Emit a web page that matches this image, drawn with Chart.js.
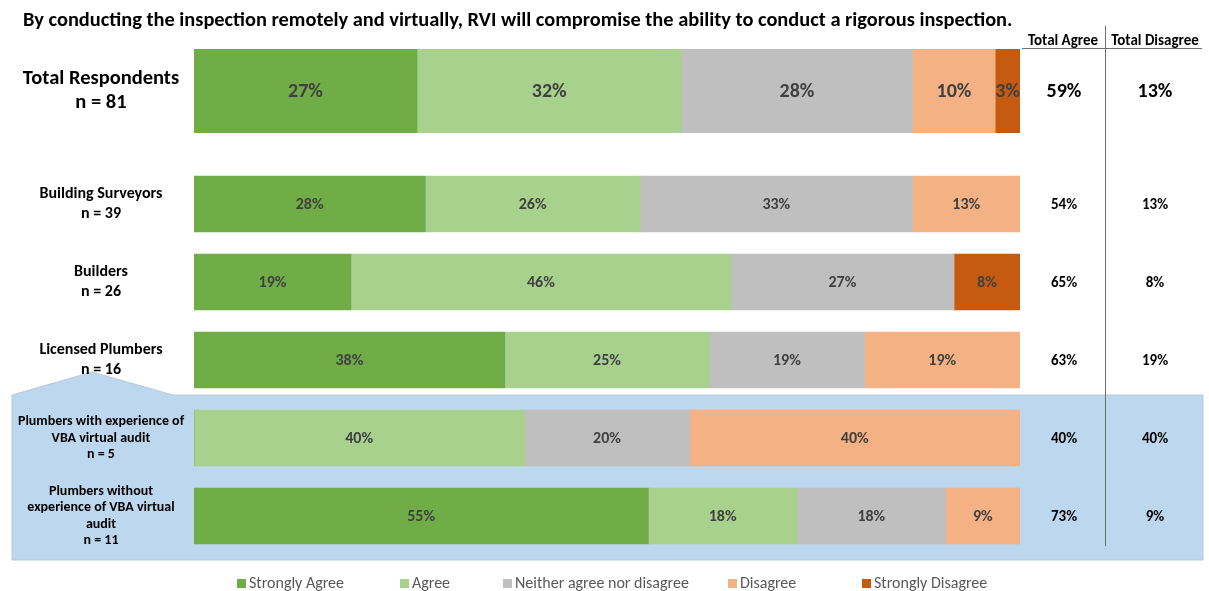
<!DOCTYPE html>
<html>
<head>
<meta charset="utf-8">
<script src="https://cdn.jsdelivr.net/npm/chart.js@4.4.1/dist/chart.umd.min.js"></script>
<style>
  html, body { margin: 0; padding: 0; background: #fff; }
  #page { position: relative; width: 1209px; height: 591px; overflow: hidden;
          font-family: Carlito, Calibri, Lato, sans-serif; }
  #page canvas { position: absolute; left: 0; top: 0; }
  #title { position: absolute; left: 23px; top: 9px; font-weight: bold; font-size: 20.4px;
           line-height: 20px; color: #000; white-space: nowrap; }
  .hdr { position: absolute; top: 33px; width: 100px; text-align: center; font-weight: bold;
         font-size: 15px; line-height: 15px; color: #000; white-space: nowrap; }
  .rule { position: absolute; background: #6e6e6e; }
  #legend { position: absolute; left: 0; top: 574px; width: 1209px; height: 18px; }
  .item { position: absolute; top: 0; font-size: 16px; color: #595959; white-space: nowrap; line-height: 18px; }
  .item i { display: inline-block; width: 9px; height: 9px; margin-right: 3px; vertical-align: 0px; }
</style>
</head>
<body>
<div id="page">
  <canvas id="groups" width="1209" height="591"></canvas>
  <canvas id="total" width="1209" height="182"></canvas>
  <div id="title">By conducting the inspection remotely and virtually, RVI will compromise the ability to conduct a rigorous inspection.</div>
  <div class="hdr" style="left:1013px">Total Agree</div>
  <div class="hdr" style="left:1105px">Total Disagree</div>
  <div class="rule" style="left:1022px; top:48px; width:180px; height:1px"></div>
  <div class="rule" style="left:1105px; top:26px; width:1px; height:520px"></div>
  <div id="legend"></div>
</div>
<script>
// Survey rows: label lines for each group
const groupLabels = [
  ['Total Respondents', 'n = 81'],
  ['Building Surveyors', 'n = 39'],
  ['Builders', 'n = 26'],
  ['Licensed Plumbers', 'n = 16'],
  ['Plumbers with experience of', 'VBA virtual audit', 'n = 5'],
  ['Plumbers without', 'experience of VBA virtual', 'audit', 'n = 11']
];

// Response shares (%) per group
const stronglyAgree    = [27, 28, 19, 38, 0, 55];
const agree            = [32, 26, 46, 25, 40, 18];
const neither          = [28, 33, 27, 19, 20, 18];
const disagree         = [10, 13, 0, 19, 40, 9];
const stronglyDisagree = [3, 0, 8, 0, 0, 0];

const seriesNames  = ['Strongly Agree', 'Agree', 'Neither agree nor disagree', 'Disagree', 'Strongly Disagree'];
const seriesValues = [stronglyAgree, agree, neither, disagree, stronglyDisagree];
const seriesColors = ['#70AD47', '#A9D18E', '#BFBFBF', '#F4B183', '#C55A11'];

const FONT = 'Carlito, Calibri, Lato, sans-serif';

// Rows are drawn as 100% stacked bars: each segment is its share of the row total
function rowTotals(idx) {
  return idx.map(i => seriesValues.reduce((s, arr) => s + arr[i], 0));
}

function buildDatasets(idx, thickness) {
  const totals = rowTotals(idx);
  return seriesNames.map((name, k) => ({
    label: name,
    raw: idx.map(i => seriesValues[k][i]),
    data: idx.map((i, j) => seriesValues[k][i] / totals[j] * 100),
    backgroundColor: seriesColors[k],
    borderWidth: 0,
    barThickness: thickness
  }));
}

function widestLine(lines, sizeOf) {
  const c = document.createElement('canvas').getContext('2d');
  let w = 0;
  lines.forEach((l, j) => {
    c.font = 'bold ' + sizeOf(j) + 'px ' + FONT;
    l.forEach(s => { w = Math.max(w, c.measureText(s).width); });
  });
  return w;
}

// Percent text on each segment plus the Total Agree / Total Disagree columns
function makeLabelPlugin(idx, segFont, sideFont) {
  return {
    id: 'valueLabels',
    afterDatasetsDraw(chart) {
      const ctx = chart.ctx;
      ctx.save();
      ctx.textAlign = 'center';
      ctx.textBaseline = 'middle';
      chart.data.datasets.forEach((ds, k) => {
        const meta = chart.getDatasetMeta(k);
        meta.data.forEach((bar, j) => {
          const v = ds.raw[j];
          if (!v) return;
          const p = bar.getCenterPoint();
          ctx.font = segFont;
          ctx.fillStyle = '#404040';
          ctx.fillText(v + '%', p.x, p.y + 1);
        });
      });
      const meta0 = chart.getDatasetMeta(0);
      idx.forEach((i, j) => {
        const y = meta0.data[j].y + 1;
        ctx.font = sideFont;
        ctx.fillStyle = '#000';
        ctx.fillText((stronglyAgree[i] + agree[i]) + '%', 1064, y);
        ctx.fillText((disagree[i] + stronglyDisagree[i]) + '%', 1155, y);
      });
      ctx.restore();
    }
  };
}

// Highlight panel behind the two plumber sub-groups
const panelPlugin = {
  id: 'panel',
  beforeDraw(chart) {
    const ctx = chart.ctx;
    ctx.save();
    ctx.fillStyle = '#BDD7EE';
    ctx.beginPath();
    ctx.moveTo(12, 395);
    ctx.lineTo(92, 372);
    ctx.lineTo(173, 395);
    ctx.lineTo(1203, 395);
    ctx.lineTo(1203, 560);
    ctx.lineTo(12, 560);
    ctx.closePath();
    ctx.fill();
    ctx.strokeStyle = '#b7c9dc';
    ctx.lineWidth = 1;
    ctx.stroke();
    ctx.restore();
  }
};

function makeChart(canvasId, idx, opts) {
  const labels = idx.map(i => groupLabels[i]);
  const w = widestLine(labels, opts.tickSize);
  return new Chart(document.getElementById(canvasId), {
    type: 'bar',
    data: { labels: labels, datasets: buildDatasets(idx, opts.thickness) },
    options: {
      indexAxis: 'y',
      responsive: false,
      animation: false,
      layout: { padding: opts.padding },
      scales: {
        x: { stacked: true, min: 0, max: 100, display: false },
        y: {
          stacked: true,
          grid: { display: false, drawTicks: false },
          border: { display: false },
          ticks: {
            crossAlign: 'center',
            padding: Math.max(0, 93 - w / 2),
            color: '#000',
            font: (c) => ({ family: FONT, size: opts.tickSize(c.index), weight: 'bold',
                            lineHeight: opts.lineHeight(c.index) })
          },
          afterFit(scale) { scale.width = 186; }
        }
      },
      plugins: { legend: { display: false }, tooltip: { enabled: false } }
    },
    plugins: opts.extra.concat([makeLabelPlugin(idx, opts.segFont, opts.sideFont)])
  });
}

// Sub-group rows (the two plumber sub-groups use a smaller label size)
makeChart('groups', [1, 2, 3, 4, 5], {
  tickSize: (j) => (j >= 3 ? 14 : 16),
  lineHeight: (j) => (j >= 3 ? 1.18 : 1.2),
  thickness: 56,
  padding: { left: 8, right: 189, top: 165, bottom: 36 },
  segFont: 'bold 16px ' + FONT, sideFont: 'bold 15px ' + FONT,
  extra: [panelPlugin]
});

// Overall row
makeChart('total', [0], {
  tickSize: () => 20.5,
  lineHeight: () => 1.17,
  thickness: 84,
  padding: { left: 8, right: 189, top: 49, bottom: 49 },
  segFont: 'bold 20px ' + FONT, sideFont: 'bold 20px ' + FONT,
  extra: []
});

// Legend row
const legendX = [237, 400, 503, 728, 862];
const legend = document.getElementById('legend');
seriesNames.forEach((name, k) => {
  const d = document.createElement('div');
  d.className = 'item';
  d.style.left = legendX[k] + 'px';
  const sw = document.createElement('i');
  sw.style.background = seriesColors[k];
  d.appendChild(sw);
  d.appendChild(document.createTextNode(name));
  legend.appendChild(d);
});
</script>
</body>
</html>
